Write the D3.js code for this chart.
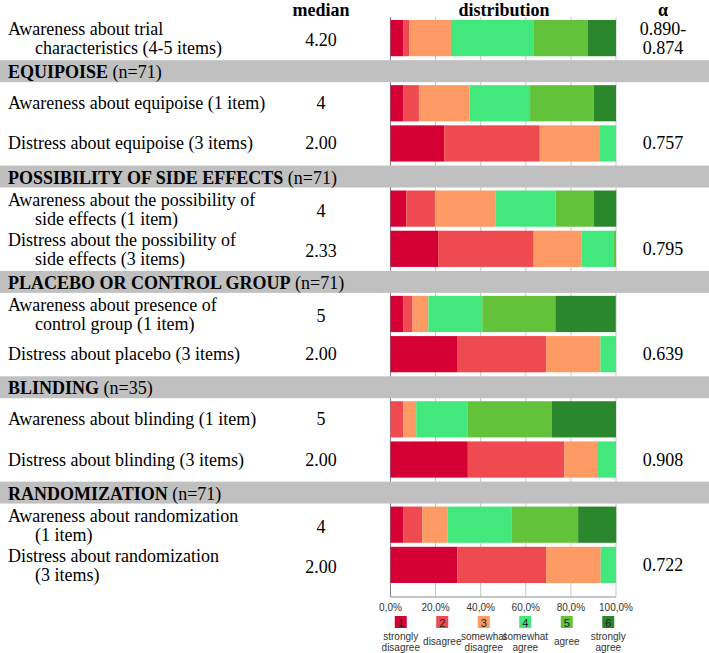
<!DOCTYPE html>
<html><head><meta charset="utf-8">
<script src="https://cdn.jsdelivr.net/npm/d3@7"></script>
<style>body{margin:0;background:#fff}svg{display:block}</style>
</head><body>
<svg id="c" width="709" height="653"></svg>
<script>
// ---------- data ----------
const groupNames = [null, "EQUIPOISE", "POSSIBILITY OF SIDE EFFECTS", "PLACEBO OR CONTROL GROUP", "BLINDING", "RANDOMIZATION"];
const groupN = [null, 71, 71, 71, 35, 71];
const itemLabels = [
  ["Awareness about trial", "characteristics (4-5 items)"],
  ["Awareness about equipoise (1 item)"],
  ["Distress about equipoise (3 items)"],
  ["Awareness about the possibility of", "side effects (1 item)"],
  ["Distress about the possibility of", "side effects (3 items)"],
  ["Awareness about presence of", "control group (1 item)"],
  ["Distress about placebo (3 items)"],
  ["Awareness about blinding (1 item)"],
  ["Distress about blinding (3 items)"],
  ["Awareness about randomization", "(1 item)"],
  ["Distress about randomization", "(3 items)"]
];
const itemGroup = [0, 1, 1, 2, 2, 3, 3, 4, 4, 5, 5];
const medians = ["4.20", "4", "2.00", "4", "2.33", "5", "2.00", "5", "2.00", "4", "2.00"];
const alphas = [["0.890-", "0.874"], [], ["0.757"], [], ["0.795"], [], ["0.639"], [], ["0.908"], [], ["0.722"]];

const pStronglyDisagree = [5.6, 5.6, 23.8, 7.0, 21.1, 5.6, 29.5, 0, 34.3, 5.6, 29.6];
const pDisagree         = [2.8, 7.0, 42.4, 12.7, 42.4, 4.2, 39.5, 5.7, 42.8, 8.5, 39.4];
const pSomewhatDisagree = [18.4, 22.5, 26.7, 26.8, 21.3, 7.0, 24.1, 5.7, 14.5, 11.3, 24.2];
const pSomewhatAgree    = [36.8, 26.8, 7.1, 26.8, 14.0, 23.9, 6.9, 22.9, 8.4, 28.2, 6.8];
const pAgree            = [23.8, 28.2, 0, 16.9, 1.2, 32.4, 0, 37.1, 0, 29.6, 0];
const pStronglyAgree    = [12.6, 9.9, 0, 9.9, 0, 26.8, 0, 28.6, 0, 16.9, 0];

const levelKeys = ["1", "2", "3", "4", "5", "6"];
const levelLabels = [["strongly", "disagree"], ["disagree"], ["somewhat", "disagree"], ["somewhat", "agree"], ["agree"], ["strongly", "agree"]];
const levelColors = ["#d50034", "#ee4a4f", "#fe9a64", "#42e87c", "#62c33b", "#2b872b"];
const tickValues = [0, 20, 40, 60, 80, 100];
const tickLabels = ["0,0%", "20,0%", "40,0%", "60,0%", "80,0%", "100,0%"];
const headers = ["median", "distribution", "α"];

// ---------- build ----------
const series = [pStronglyDisagree, pDisagree, pSomewhatDisagree, pSomewhatAgree, pAgree, pStronglyAgree];
const table = itemLabels.map((l, i) => {
  const o = {i};
  levelKeys.forEach((k, j) => o[k] = series[j][i]);
  return o;
});
const stacked = d3.stack().keys(levelKeys)(table);

// layout units: bar row = 1 unit, group band = 0.62 unit
const BAND_U = 0.62;
let u = 0;
const rows = [];
itemLabels.forEach((l, i) => {
  if (i > 0 && itemGroup[i] !== itemGroup[i - 1]) {
    rows.push({type: "band", g: itemGroup[i], u0: u, u1: u + BAND_U});
    u += BAND_U;
  }
  rows.push({type: "bar", i, u0: u, u1: u + 1});
  u += 1;
});
const y = d3.scaleLinear().domain([0, u]).range([18, 585]);
const x = d3.scaleLinear().domain([0, 100]).range([390.5, 616]);
const color = d3.scaleOrdinal().domain(levelKeys).range(levelColors);
const barRow = {};
rows.filter(r => r.type === "bar").forEach(r => barRow[r.i] = r);

const svg = d3.select("#c");
const serif = "'Liberation Serif','Times New Roman',serif";
const sans = "'Liberation Sans',Arial,sans-serif";

// gridlines
svg.append("g").selectAll("line").data(tickValues).join("line")
  .attr("x1", d => x(d)).attr("x2", d => x(d))
  .attr("y1", 17).attr("y2", 597)
  .attr("stroke", d => d === 0 ? "#808080" : "#c4c4c4").attr("stroke-width", 1);
svg.append("line").attr("x1", x(0)).attr("x2", x(100)).attr("y1", 597).attr("y2", 597)
  .attr("stroke", "#8a8a8a");

// group bands
const bands = rows.filter(r => r.type === "band");
svg.append("g").selectAll("rect").data(bands).join("rect")
  .attr("x", 0).attr("width", 709)
  .attr("y", d => y(d.u0) + 2).attr("height", d => y(d.u1) - y(d.u0) - 3)
  .attr("fill", "#c0c0c0");
const bt = svg.append("g").selectAll("text").data(bands).join("text")
  .attr("x", 8).attr("y", d => y(d.u0) + 20)
  .attr("font-family", serif).attr("font-size", 18).attr("fill", "#000");
bt.append("tspan").attr("font-weight", "bold").text(d => groupNames[d.g]);
bt.append("tspan").text(d => " (n=" + groupN[d.g] + ")");

// bars
svg.append("g").selectAll("g").data(stacked).join("g")
  .attr("fill", d => color(d.key))
  .selectAll("rect").data(d => d).join("rect")
  .attr("x", d => x(d[0])).attr("width", d => Math.max(0, x(d[1]) - x(d[0])))
  .attr("y", d => y(barRow[d.data.i].u0) + 2)
  .attr("height", d => y(barRow[d.data.i].u1) - y(barRow[d.data.i].u0) - 4);

// row labels
const cy = i => (y(barRow[i].u0) + y(barRow[i].u1)) / 2;
itemLabels.forEach((lines, i) => {
  const c = cy(i);
  lines.forEach((t, k) => {
    const base = lines.length === 1 ? c + 6 : (k === 0 ? c - 3 : c + 16);
    svg.append("text").attr("x", k === 0 ? 8 : 35).attr("y", base)
      .attr("font-family", serif).attr("font-size", 18).text(t);
  });
  svg.append("text").attr("x", 321).attr("y", c + (lines.length === 1 ? 6 : 8)).attr("text-anchor", "middle")
    .attr("font-family", serif).attr("font-size", 18).text(medians[i]);
  const a = alphas[i];
  a.forEach((t, k) => {
    const base = a.length === 1 ? c + 6 : (k === 0 ? c - 3 : c + 16);
    svg.append("text").attr("x", 663).attr("y", base).attr("text-anchor", "middle")
      .attr("font-family", serif).attr("font-size", 18).text(t);
  });
});

// headers
const hx = [321, 504, 663];
svg.append("g").selectAll("text").data(headers).join("text")
  .attr("x", (d, i) => hx[i]).attr("y", 16).attr("text-anchor", "middle")
  .attr("font-family", serif).attr("font-size", 18).attr("font-weight", "bold").text(d => d);

// axis tick labels
svg.append("g").selectAll("text").data(tickValues).join("text")
  .attr("x", d => x(d)).attr("y", 611).attr("text-anchor", "middle")
  .attr("font-family", sans).attr("font-size", 10).attr("fill", "#333")
  .text((d, i) => tickLabels[i]);

// legend
const lx = d3.scaleBand().domain(levelKeys).range([380, 629]);
const lg = svg.append("g").selectAll("g").data(levelKeys).join("g")
  .attr("transform", d => `translate(${lx(d) + lx.bandwidth() / 2},0)`);
lg.append("rect").attr("x", -6).attr("y", 616).attr("width", 12).attr("height", 12)
  .attr("fill", d => color(d));
lg.append("text").attr("y", 626.5).attr("text-anchor", "middle")
  .attr("font-family", sans).attr("font-size", 11).attr("fill", "#222").text(d => d);
lg.each(function (d, i) {
  const lines = levelLabels[i];
  lines.forEach((t, k) => {
    d3.select(this).append("text")
      .attr("y", lines.length === 1 ? 645 : (k === 0 ? 640 : 651))
      .attr("text-anchor", "middle").attr("font-family", sans).attr("font-size", 10)
      .attr("fill", "#333").text(t);
  });
});
</script>
</body></html>
